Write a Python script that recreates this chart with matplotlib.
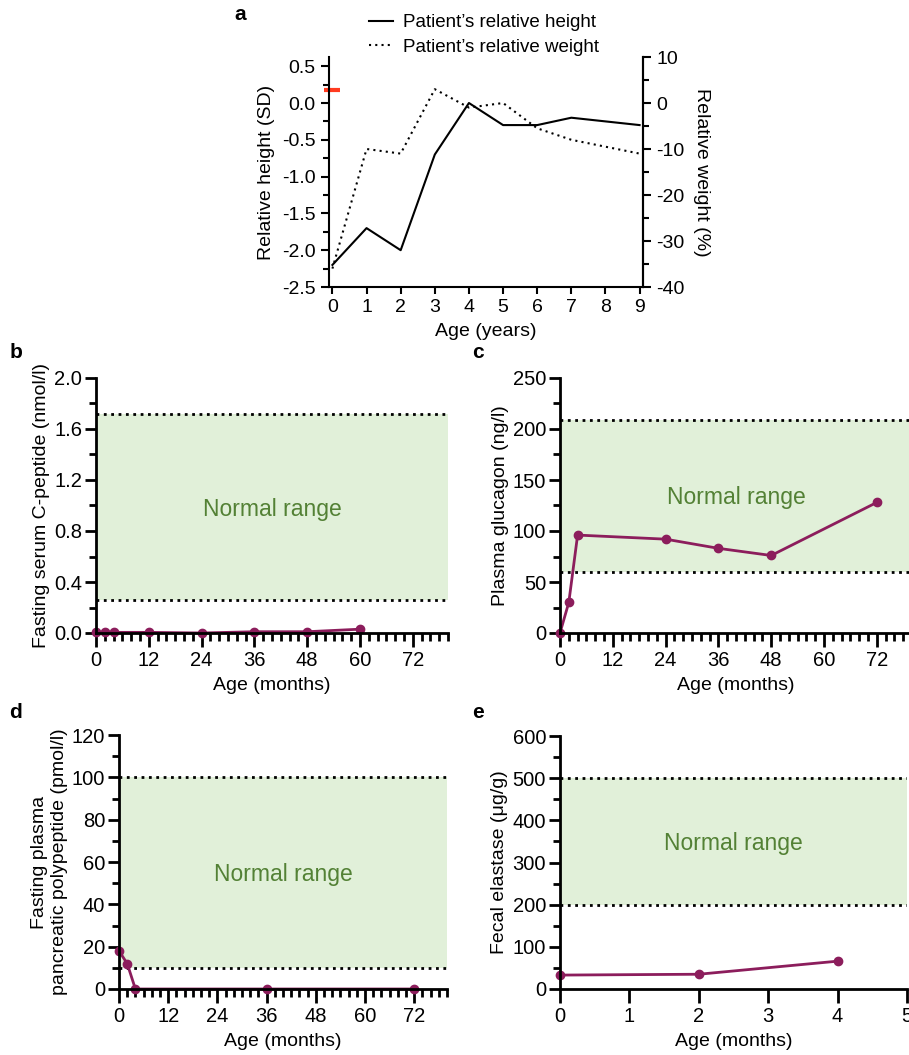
import matplotlib
matplotlib.use("Agg")
import matplotlib.pyplot as plt
from matplotlib.ticker import MultipleLocator, FormatStrFormatter
from matplotlib.lines import Line2D

plt.rcParams['font.family'] = ['Liberation Sans', 'DejaVu Sans']
plt.rcParams['axes.unicode_minus'] = False

# ---- Data ----
years = [0, 1, 2, 3, 4, 5, 6, 7, 8, 9]
rel_height = [-2.2, -1.7, -2.0, -0.7, 0.0, -0.3, -0.3, -0.2, -0.25, -0.3]
rel_weight = [-36, -10, -11, 3, -1, 0, -5.5, -8, -9.5, -11]
target_height_sd = 0.17

cpep_months = [0, 2, 4, 12, 24, 36, 48, 60]
cpep_values = [0.005, 0.005, 0.005, 0.005, 0.0, 0.01, 0.01, 0.03]
cpep_range = (0.26, 1.72)

gluc_months = [0, 2, 4, 24, 36, 48, 72]
gluc_values = [0, 30, 96, 92, 83, 76, 128]
gluc_range = (60, 209)

pp_months = [0, 2, 4, 36, 72]
pp_values = [18, 12, 0, 0, 0]
pp_range = (10, 100)

fe_months = [0, 2, 4]
fe_values = [33, 35, 66]
fe_range = (200, 500)

PURPLE = '#8c1d5c'
BAND = '#e1f0d9'
GREEN_TXT = '#538135'

W, H = 909, 1055
fig = plt.figure(figsize=(W / 100, H / 100), dpi=100)


def ax_at(x0, y0, x1, y1):
    return fig.add_axes([x0 / W, 1 - y1 / H, (x1 - x0) / W, (y1 - y0) / H])


# ---- Panel a ----
axa = ax_at(329, 57, 643, 287)
axa.plot(years, rel_height, color='black', lw=1.5)
axa.plot([0.0], [target_height_sd], marker='_', color='#ff3b1f', ms=12, mew=3, clip_on=False)
axa.set_xlim(-0.1, 9.1)
axa.set_ylim(-2.5, 0.625)
axa.yaxis.set_major_locator(MultipleLocator(0.5))
axa.yaxis.set_minor_locator(MultipleLocator(0.25))
axa.yaxis.set_major_formatter(FormatStrFormatter('%.1f'))
axa.set_xticks(years)
axa.spines['top'].set_visible(False)
for s in ['left', 'bottom', 'right']:
    axa.spines[s].set_linewidth(1.5)
axa.tick_params(axis='both', which='major', labelsize=14, width=1.5, length=6, direction='out')
axa.tick_params(axis='both', which='minor', width=1.5, length=4)
axa.tick_params(axis='x', which='major', length=5, pad=4)
axa.set_xlabel('Age (years)', fontsize=14, labelpad=5)
axa.set_ylabel('Relative height (SD)', fontsize=14, labelpad=5)

axw = axa.twinx()
axw.plot(years, rel_weight, color='black', lw=1.5, linestyle=(0, (1, 2)))
axw.set_ylim(-40, 10)
axw.yaxis.set_major_locator(MultipleLocator(10))
axw.yaxis.set_minor_locator(MultipleLocator(5))
axw.spines['top'].set_visible(False)
axw.spines['left'].set_visible(False)
axw.spines['bottom'].set_visible(False)
axw.spines['right'].set_linewidth(1.5)
axw.tick_params(axis='y', which='major', labelsize=14, width=1.5, length=6)
axw.tick_params(axis='y', which='minor', width=1.5, length=4)
axw.set_ylabel('Relative weight (%)', fontsize=14, rotation=270, labelpad=18)

handles = [Line2D([], [], color='black', lw=1.5),
           Line2D([], [], color='black', lw=1.5, linestyle=(0, (1, 2)))]
fig.legend(handles, ['Patient\u2019s relative height', 'Patient\u2019s relative weight'],
           loc='center', bbox_to_anchor=(484 / W, 1 - 35 / H), bbox_transform=fig.transFigure,
           frameon=False, fontsize=13.5, handlelength=1.3, handletextpad=0.5,
           labelspacing=0.4, borderpad=0)


def lab_panel(ax, xs, ys, yrange, ylim, ymaj, ymin, ylabel, xlim, xmaj, xmin,
              fmt, txt_xy):
    ax.axhspan(yrange[0], yrange[1], color=BAND, lw=0, zorder=0)
    ax.axhline(yrange[0], color='black', lw=2, linestyle=':', zorder=1)
    ax.axhline(yrange[1], color='black', lw=2, linestyle=':', zorder=1)
    ax.plot(xs, ys, color=PURPLE, lw=2, marker='o', ms=6, clip_on=False, zorder=3)
    ax.text(txt_xy[0], txt_xy[1], 'Normal range', color=GREEN_TXT, fontsize=16.5,
            ha='center', va='center')
    ax.set_xlim(*xlim)
    ax.set_ylim(*ylim)
    ax.xaxis.set_major_locator(MultipleLocator(xmaj))
    if xmin:
        ax.xaxis.set_minor_locator(MultipleLocator(xmin))
    ax.yaxis.set_major_locator(MultipleLocator(ymaj))
    ax.yaxis.set_minor_locator(MultipleLocator(ymin))
    if fmt:
        ax.yaxis.set_major_formatter(FormatStrFormatter(fmt))
    for s in ['top', 'right']:
        ax.spines[s].set_visible(False)
    for s in ['left', 'bottom']:
        ax.spines[s].set_linewidth(2)
        ax.spines[s].set_zorder(4)
    ax.tick_params(axis='y', which='major', labelsize=14.5, width=2, length=8, pad=2)
    ax.tick_params(axis='y', which='minor', width=2, length=5)
    ax.tick_params(axis='x', which='major', labelsize=14.5, width=2, length=10, pad=3)
    ax.tick_params(axis='x', which='minor', width=2, length=6)
    ax.set_xlabel('Age (months)', fontsize=14, labelpad=5)
    ax.set_ylabel(ylabel, fontsize=14, labelpad=3)


axb = ax_at(96, 378, 448, 633)
lab_panel(axb, cpep_months, cpep_values, cpep_range, (0, 2.0), 0.4, 0.2,
          'Fasting serum C-peptide (nmol/l)', (0, 80), 12, 2, '%.1f', (40, 0.97))
axb.set_xticks([0, 12, 24, 36, 48, 60, 72])

axc = ax_at(560, 378, 912, 633)
lab_panel(axc, gluc_months, gluc_values, gluc_range, (0, 250), 50, 25,
          'Plasma glucagon (ng/l)', (0, 80), 12, 2, None, (40, 133))
axc.set_xticks([0, 12, 24, 36, 48, 60, 72])

axd = ax_at(119, 735, 447, 989)
lab_panel(axd, pp_months, pp_values, pp_range, (0, 120), 20, 10,
          'Fasting plasma\npancreatic polypeptide (pmol/l)', (0, 80), 12, 2, None, (40, 54))
axd.set_xticks([0, 12, 24, 36, 48, 60, 72])

axe = ax_at(560, 736, 907, 989)
lab_panel(axe, fe_months, fe_values, fe_range, (0, 600), 100, 50,
          'Fecal elastase (\u03bcg/g)', (0, 5), 1, None, None, (2.5, 346))

# panel letters
for letter, (x, y) in {'a': (240, 15), 'b': (16, 353), 'c': (478, 353),
                       'd': (16, 712), 'e': (478, 712)}.items():
    fig.text(x / W, 1 - y / H, letter, fontsize=15, fontweight='bold',
             ha='center', va='center')

fig.savefig('out.png', dpi=100)
